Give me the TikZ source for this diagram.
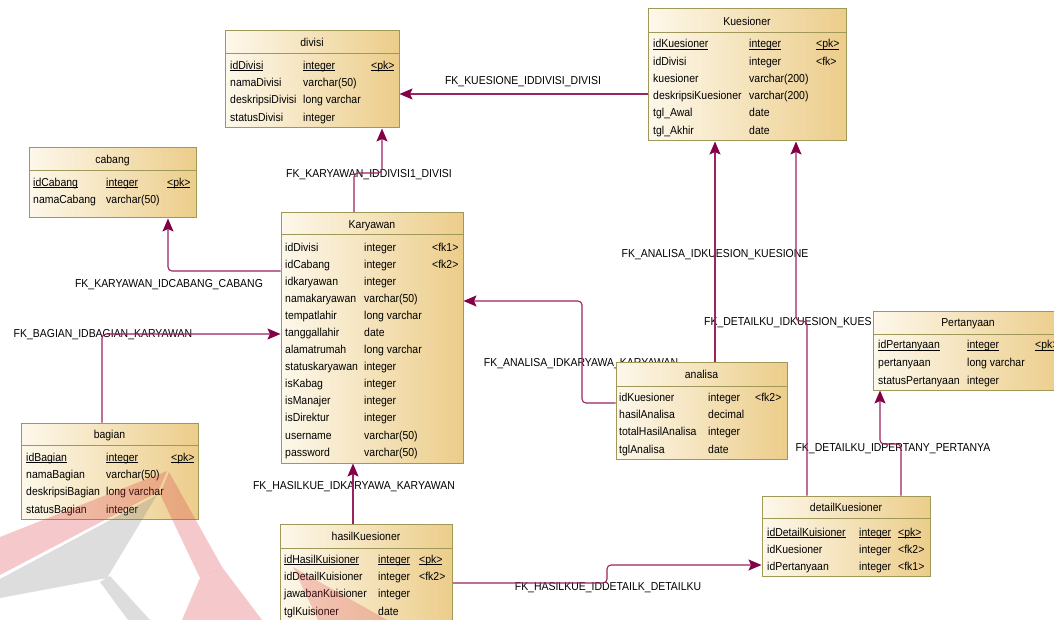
\documentclass[tikz,border=0pt]{standalone}
\usepackage{fontspec}
\setmainfont{Liberation Sans}[FakeStretch=0.91]
\usetikzlibrary{arrows.meta,fit}
\definecolor{fkc}{RGB}{155,35,95}
\definecolor{fkh}{RGB}{130,0,70}
\definecolor{bord}{RGB}{160,152,88}
\definecolor{boxa}{RGB}{253,248,235}
\definecolor{boxb}{RGB}{236,205,138}
\definecolor{wmred}{RGB}{220,60,70}
\definecolor{wmgrey}{RGB}{120,120,120}
\pgfdeclarelayer{lab}
\pgfdeclarelayer{bg}
\pgfdeclarelayer{fg}
\pgfsetlayers{lab,bg,main,fg}
\newcommand\pkul[1]{\underline{\smash{#1}}}
\newcommand\ertable[7]{%
  \node[tbl, fit={(#2,#3) (#4,#5)}] (#1) {};
  \draw[bord, line width=1pt] (#2,#6) -- (#4,#6);
  \node[ttl] (#1-title) at ({(#2+#4)/2},{(#3+#6)/2+4.1}) {#7};
}
\newcommand\rw[8]{%
  \node[txt] (#1n) at (#2,#5+4.1) {#6};
  \node[txt] (#1t) at (#3,#5+4.1) {#7};
  \node[txt] (#1k) at (#4,#5+4.1) {#8};
}
\tikzset{
  tbl/.style={draw=bord, line width=1pt, inner sep=0pt, left color=boxa, right color=boxb},
  txt/.style={font=\fontsize{11.5}{13}\selectfont, inner sep=0pt, anchor=base west},
  ttl/.style={font=\fontsize{11.5}{13}\selectfont, inner sep=0pt, anchor=base},
  lbl/.style={font=\fontsize{11.5}{13}\selectfont, inner sep=0pt, anchor=base, text=black},
  fk/.style={draw=fkc, line width=1.1pt, rounded corners=4pt,
    -{Stealth[length=13pt,width=11pt,inset=2.5pt,fill=fkh,color=fkh]}},
}
\begin{document}
\begin{tikzpicture}[x=1pt,y=-1pt]
\begin{pgfonlayer}{lab}
\fill[white] (0,0) rectangle (1054,620);
\end{pgfonlayer}
\useasboundingbox (0,0) rectangle (1054,620);

% ---------- tables ----------
\ertable{divisi}{225}{31}{399}{128}{54}{divisi}
\rw{dv1}{230}{303}{371}{65}{\pkul{idDivisi}}{\pkul{integer}}{\pkul{<pk>}}
\rw{dv2}{230}{303}{371}{82.3}{namaDivisi}{varchar(50)}{}
\rw{dv3}{230}{303}{371}{99.7}{deskripsiDivisi}{long varchar}{}
\rw{dv4}{230}{303}{371}{117}{statusDivisi}{integer}{}

\ertable{cabang}{29}{148}{196}{218}{171}{cabang}
\rw{cb1}{33}{106}{167}{182}{\pkul{idCabang}}{\pkul{integer}}{\pkul{<pk>}}
\rw{cb2}{33}{106}{167}{199}{namaCabang}{varchar(50)}{}

\ertable{kue}{648}{9}{846}{141}{33}{Kuesioner}
\rw{ku1}{653}{749}{816}{43.5}{\pkul{idKuesioner}}{\pkul{integer}}{\pkul{<pk>}}
\rw{ku2}{653}{749}{816}{61}{idDivisi}{integer}{<fk>}
\rw{ku3}{653}{749}{816}{78}{kuesioner}{varchar(200)}{}
\rw{ku4}{653}{749}{816}{95.5}{deskripsiKuesioner}{varchar(200)}{}
\rw{ku5}{653}{749}{816}{112.5}{tgl\_Awal}{date}{}
\rw{ku6}{653}{749}{816}{130}{tgl\_Akhir}{date}{}

\ertable{kar}{281}{213}{463}{463}{235}{Karyawan}
\rw{ka1}{285}{364}{432}{247}{idDivisi}{integer}{<fk1>}
\rw{ka2}{285}{364}{432}{264.1}{idCabang}{integer}{<fk2>}
\rw{ka3}{285}{364}{432}{281.2}{idkaryawan}{integer}{}
\rw{ka4}{285}{364}{432}{298.2}{namakaryawan}{varchar(50)}{}
\rw{ka5}{285}{364}{432}{315.3}{tempatlahir}{long varchar}{}
\rw{ka6}{285}{364}{432}{332.4}{tanggallahir}{date}{}
\rw{ka7}{285}{364}{432}{349.5}{alamatrumah}{long varchar}{}
\rw{ka8}{285}{364}{432}{366.6}{statuskaryawan}{integer}{}
\rw{ka9}{285}{364}{432}{383.7}{isKabag}{integer}{}
\rw{ka10}{285}{364}{432}{400.7}{isManajer}{integer}{}
\rw{ka11}{285}{364}{432}{417.8}{isDirektur}{integer}{}
\rw{ka12}{285}{364}{432}{434.9}{username}{varchar(50)}{}
\rw{ka13}{285}{364}{432}{452}{password}{varchar(50)}{}

\ertable{bagian}{21}{423}{198}{519}{445}{bagian}
\rw{bg1}{26}{106}{171}{457}{\pkul{idBagian}}{\pkul{integer}}{\pkul{<pk>}}
\rw{bg2}{26}{106}{171}{474.3}{namaBagian}{varchar(50)}{}
\rw{bg3}{26}{106}{171}{491.6}{deskripsiBagian}{long varchar}{}
\rw{bg4}{26}{106}{171}{509}{statusBagian}{integer}{}

\ertable{hasil}{280}{524}{452}{630}{548}{hasilKuesioner}
\rw{hk1}{284}{378}{419}{559}{\pkul{idHasilKuisioner}}{\pkul{integer}}{\pkul{<pk>}}
\rw{hk2}{284}{378}{419}{576.3}{idDetailKuisioner}{integer}{<fk2>}
\rw{hk3}{284}{378}{419}{593.7}{jawabanKuisioner}{integer}{}
\rw{hk4}{284}{378}{419}{611}{tglKuisioner}{date}{}

\ertable{analisa}{616}{362}{787}{459}{386}{analisa}
\rw{an1}{619}{708}{755}{397}{idKuesioner}{integer}{<fk2>}
\rw{an2}{619}{708}{755}{414.3}{hasilAnalisa}{decimal}{}
\rw{an3}{619}{708}{755}{431.7}{totalHasilAnalisa}{integer}{}
\rw{an4}{619}{708}{755}{449}{tglAnalisa}{date}{}

\ertable{pert}{873}{311}{1063}{390}{334}{Pertanyaan}
\rw{pt1}{878}{967}{1035}{344.5}{\pkul{idPertanyaan}}{\pkul{integer}}{\pkul{<pk>}}
\rw{pt2}{878}{967}{1035}{362.5}{pertanyaan}{long varchar}{}
\rw{pt3}{878}{967}{1035}{380}{statusPertanyaan}{integer}{}

\ertable{detail}{762}{496}{930}{576}{518}{detailKuesioner}
\rw{dk1}{767}{859}{898}{532}{\pkul{idDetailKuisioner}}{\pkul{integer}}{\pkul{<pk>}}
\rw{dk2}{767}{859}{898}{549}{idKuesioner}{integer}{<fk2>}
\rw{dk3}{767}{859}{898}{566}{idPertanyaan}{integer}{<fk1>}

% ---------- labels ----------
\begin{pgfonlayer}{lab}
\node[lbl] (l1) at (523,80+4.1) {FK\_KUESIONE\_IDDIVISI\_DIVISI};
\node[lbl] (l2) at (369,173+4.1) {FK\_KARYAWAN\_IDDIVISI1\_DIVISI};
\node[lbl] (l3) at (169,283+4.1) {FK\_KARYAWAN\_IDCABANG\_CABANG};
\node[lbl] (l4) at (103,333+4.1) {FK\_BAGIAN\_IDBAGIAN\_KARYAWAN};
\node[lbl] (l5) at (581,362+4.1) {FK\_ANALISA\_IDKARYAWA\_KARYAWAN};
\node[lbl] (l6) at (715,253+4.1) {FK\_ANALISA\_IDKUESION\_KUESIONE};
\node[lbl, anchor=base west] (l7) at (704,321+4.1) {FK\_DETAILKU\_IDKUESION\_KUES};
\node[lbl] (l8) at (893,447+4.1) {FK\_DETAILKU\_IDPERTANY\_PERTANYA};
\node[lbl] (l9) at (354,485+4.1) {FK\_HASILKUE\_IDKARYAWA\_KARYAWAN};
\node[lbl] (l10) at (608,586+4.1) {FK\_HASILKUE\_IDDETAILK\_DETAILKU};
\end{pgfonlayer}

% ---------- connectors ----------
\begin{pgfonlayer}{bg}
\draw[fk] (kue.west |- 0,94) -- (divisi.east |- 0,94);
\draw[fk] (kar.north -| 354,0) -- (354,173) -- (382,173) -- (divisi.south -| 382,0);
\draw[fk] (kar.west |- 0,271) -- (168,271) -- (cabang.south -| 168,0);
\draw[fk] (bagian.north -| 102,0) -- (102,334) -- (kar.west |- 0,334);
\draw[fk] (analisa.west |- 0,403) -- (582,403) -- (582,301) -- (kar.east |- 0,301);
\draw[fk] (analisa.north -| 715,0) -- (kue.south -| 715,0);
\draw[fk] (detail.north -| 807,0) -- (807,321) -- (796,321) -- (kue.south -| 796,0);
\draw[fk] (detail.north -| 901,0) -- (901,444) -- (880,444) -- (pert.south -| 880,0);
\draw[fk] (hasil.north -| 353,0) -- (kar.south -| 353,0);
\draw[fk] (hasil.east |- 0,583) -- (607,583) -- (607,565) -- (detail.west |- 0,565);
\end{pgfonlayer}

% ---------- watermark ----------
\begin{pgfonlayer}{fg}
\fill[wmred, opacity=.28] (0,537) -- (167,471) -- (158,492) -- (0,575) -- cycle;
\fill[wmgrey, opacity=.25] (0,579) -- (157,495) -- (107,578) -- (0,598) -- cycle;
\fill[wmgrey, opacity=.25] (100,582) -- (110,576) -- (150,620) -- (128,620) -- cycle;
\fill[wmred, opacity=.28] (169,472) -- (222,567) -- (200,578) -- (160,494) -- cycle;
\fill[wmred, opacity=.28] (200,578) -- (222,567) -- (262,620) -- (182,620) -- cycle;
\fill[wmred, opacity=.25] (293,567) -- (387,620) -- (318,620) -- cycle;
\end{pgfonlayer}
\end{tikzpicture}
\end{document}
